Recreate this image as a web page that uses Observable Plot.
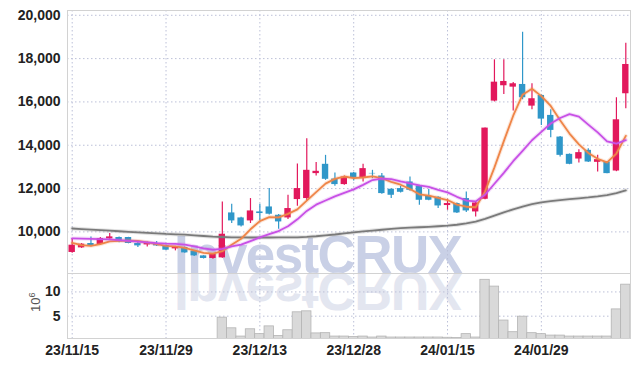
<!DOCTYPE html>
<html>
<head>
<meta charset="utf-8">
<script src="https://cdn.jsdelivr.net/npm/d3@7"></script>
<script src="https://cdn.jsdelivr.net/npm/@observablehq/plot@0.6"></script>
<style>
  html, body { margin: 0; padding: 0; background: #fff; }
  #chart { position: relative; width: 639px; height: 367px; overflow: hidden; }
  #chart svg { position: absolute; left: 0; z-index: 2; background: transparent; }
  .wm { position: absolute; left: 174px; top: 228.1px; font: bold 53px "Liberation Sans", Arial, sans-serif;
        line-height: 53px; white-space: nowrap; z-index: 1; letter-spacing: -1.6px; }
  .wm.top { color: #c9d0e6; }
  .wm.refl { color: #e3e6f0; transform: scaleY(-1); transform-origin: 0 44.9px; }
  #vlabel { position: absolute; left: 22px; top: 292px; width: 20px; height: 20px; z-index: 3;
            font: 13px "Liberation Sans", Arial, sans-serif; color: #555; transform: rotate(-90deg);
            white-space: nowrap; line-height: 20px; }
  #vlabel sup { font-size: 9px; }
</style>
</head>
<body>
<div id="chart">
  <div class="wm top">InvestCRUX</div>
  <div class="wm refl">InvestCRUX</div>
  <div id="vlabel">10<sup>6</sup></div>
</div>
<script>
const dates = ["23/11/15","23/11/16","23/11/17","23/11/20","23/11/21","23/11/22","23/11/23","23/11/24","23/11/27","23/11/28",
  "23/11/29","23/11/30","23/12/01","23/12/04","23/12/05","23/12/06","23/12/07","23/12/08","23/12/11","23/12/12",
  "23/12/13","23/12/14","23/12/15","23/12/18","23/12/19","23/12/20","23/12/21","23/12/22","23/12/26","23/12/27",
  "23/12/28","24/01/02","24/01/03","24/01/04","24/01/05","24/01/08","24/01/09","24/01/10","24/01/11","24/01/12",
  "24/01/15","24/01/16","24/01/17","24/01/18","24/01/19","24/01/22","24/01/23","24/01/24","24/01/25","24/01/26",
  "24/01/29","24/01/30","24/01/31","24/02/01","24/02/02","24/02/05","24/02/06","24/02/07","24/02/08","24/02/13"];
const open  = [9051,9263,9465,9419,9677,9742,9742,9465,9400,9465, 9373,9217,9281,9111,8894,8774,8802,10876,10645,10507,
  10922,11152,10769,10645,11493,11539,12691,13120,12442,12184, 12719,12488,12700,12580,11968,12000,12304,12120,11645,11599,
  11217,11309,11539,10922,11507,16037,16746,16682,16806,15806, 16299,15378,14378,13580,13364,13765,13212,13226,12811,16377];
const high  = [9696,9460,9770,9740,9926,9760,9750,9539,9539,9560, 9390,9330,9300,9120,8900,8980,11382,11276,10680,11539,
  11276,12000,10800,11691,13140,14304,13198,13534,12719,12580, 12740,13120,12843,12691,11990,12106,12534,12150,11954,11620,
  11507,11330,11843,11360,14792,17944,17944,16900,19216,16838, 16320,15640,14400,13600,13797,13843,13534,13240,16193,18709];
const low   = [9020,9240,9320,9400,9660,9500,9450,9281,9300,9330, 9140,9125,9010,8870,8750,8740,8780,10387,10230,10387,
  10507,10780,10124,10571,11184,11400,12580,12380,12106,12150, 12350,12304,12460,11740,11539,11800,11880,11230,11440,11078,
  11000,10850,10900,10691,11480,16000,16345,15576,16100,15640, 14917,14350,13456,13100,13180,13200,12765,12680,12780,15686];
const close = [9387,9433,9341,9696,9770,9539,9465,9355,9465,9355, 9157,9309,9032,8894,8774,8959,9894,10507,10276,10968,
  10848,10816,10461,11078,12000,12843,12797,12428,12184,12534, 12488,12921,12680,11769,11691,11829,11922,11461,11461,11198,
  11309,10876,10968,11336,14792,16912,16944,16838,16193,16147, 15207,14686,13534,13120,13659,13226,13336,12691,15175,17728];
// volume in millions of shares
const volume = [0.2,0.15,0.2,0.15,0.2,0.15,0.1,0.15,0.1,0.1, 0.15,0.1,0.1,0.15,0.1,0.2,4.7,2.5,0.8,2.3,
  1.3,2.9,0.9,2.1,5.8,6.0,1.45,1.5,0.8,0.8, 0.7,0.8,0.6,0.8,0.6,0.6,0.6,0.6,0.6,0.6,
  0.55,0.5,1.3,0.6,12.5,11.1,4.1,1.7,4.9,1.5, 1.3,1.0,1.0,0.8,0.8,0.8,0.8,0.8,6.4,11.5];
const ma5  = [9493,9387,9355,9433,9560,9590,9600,9580,9520,9436, 9359,9328,9264,9149,9033,8994,9111,9406,9682,10121,
  10499,10683,10674,10834,11041,11440,11836,12229,12450,12557, 12486,12511,12561,12478,12310,12178,11978,11734,11673,11574,
  11470,11261,11162,11137,11856,12977,14190,15364,16336,16607, 16266,15814,15153,14539,14041,13645,13375,13206,13617,14431];
const ma10 = [9700,9690,9680,9670,9655,9625,9590,9550,9515,9481, 9458,9445,9414,9334,9235,9177,9219,9335,9416,9577,
  9746,9897,10040,10258,10581,10969,11259,11452,11642,11799, 11963,12173,12395,12464,12434,12332,12245,12148,12076,11942,
  11824,11620,11448,11405,11715,12224,12726,13263,13737,14232, 14621,15002,15259,15437,15324,14955,14595,14180,14078,14236];
const ma60 = [10157,10130,10105,10080,10055,10030,10005,9980,9955,9930, 9905,9890,9870,9840,9810,9780,9765,9752,9745,9742,
  9742,9742,9745,9748,9752,9770,9800,9840,9880,9930, 9980,10020,10060,10100,10140,10170,10195,10215,10235,10260,
  10290,10330,10390,10470,10600,10750,10900,11040,11170,11280, 11360,11420,11470,11510,11550,11590,11640,11700,11790,11920];
const priceTicks = [10000, 12000, 14000, 16000, 18000, 20000];
const volumeTicks = [5, 10];
const dateTicks = ["23/11/15","23/11/29","23/12/13","23/12/28","24/01/15","24/01/29"];

const rows = dates.map((d, i) => ({
  date: d, open: open[i], high: high[i], low: low[i], close: close[i],
  volume: volume[i], ma5: ma5[i], ma10: ma10[i], ma60: ma60[i]
}));

const RED = "#e2185c", BLUE = "#2f97c9";
const colorOf = d => d.close >= d.open ? RED : BLUE;
const GRID = "#bcc0d8";
const FONT = "'Liberation Sans Narrow', 'Liberation Sans', Arial, sans-serif";
const dash = "1.5,2.5";

const price = Plot.plot({
  width: 639, height: 274,
  marginTop: 10, marginBottom: 1, marginLeft: 67, marginRight: 9,
  style: {background: "transparent"},
  x: {type: "band", domain: dates, padding: 0, round: false, axis: null},
  y: {domain: [8080, 20220], axis: null},
  color: {type: "identity"},
  marks: [
    Plot.ruleY(priceTicks, {stroke: GRID, strokeDasharray: dash}),
    Plot.ruleX(dateTicks, {x: d => d, stroke: GRID, strokeDasharray: dash}),
    Plot.frame({stroke: "#d2d2d2"}),
    Plot.axisY(priceTicks, {label: null, tickSize: 0, tickPadding: 7, tickFormat: d3.format(","), fontSize: 14,
      fontWeight: "bold", fontFamily: FONT, fill: "#222", letterSpacing: "0.5px"}),
    Plot.ruleX(rows, {x: "date", y1: "low", y2: "high", stroke: colorOf, strokeWidth: 1.2}),
    Plot.barY(rows, {x: "date", y1: "open", y2: "close", fill: colorOf, insetLeft: 1.5, insetRight: 1.5}),
    Plot.line(rows, {x: "date", y: "ma60", stroke: "#7a7a7a", strokeWidth: 4, strokeOpacity: 0.2}),
    Plot.line(rows, {x: "date", y: "ma60", stroke: "#7a7a7a", strokeWidth: 1.8}),
    Plot.line(rows, {x: "date", y: "ma5", stroke: "#ef8548", strokeWidth: 4, strokeOpacity: 0.2}),
    Plot.line(rows, {x: "date", y: "ma5", stroke: "#ef8548", strokeWidth: 1.8}),
    Plot.line(rows, {x: "date", y: "ma10", stroke: "#c850e6", strokeWidth: 4, strokeOpacity: 0.2}),
    Plot.line(rows, {x: "date", y: "ma10", stroke: "#c850e6", strokeWidth: 1.8})
  ]
});
price.style.top = "0px";

const vol = Plot.plot({
  width: 639, height: 94,
  marginTop: 0, marginBottom: 29, marginLeft: 67, marginRight: 9,
  style: {background: "transparent"},
  x: {type: "band", domain: dates, padding: 0, round: false, axis: null},
  y: {domain: [0.4, 13.8], axis: null},
  marks: [
    Plot.ruleY(volumeTicks, {stroke: GRID, strokeDasharray: dash}),
    Plot.ruleX(dateTicks, {x: d => d, stroke: GRID, strokeDasharray: dash}),
    Plot.barY(rows, {x: "date", y: "volume", fill: "#d9d9d9", stroke: "#b4b4b4", strokeWidth: 0.8, clip: true}),
    Plot.frame({stroke: "#d2d2d2"}),
    Plot.axisY(volumeTicks, {label: null, tickSize: 0, tickPadding: 7, fontSize: 14, fontWeight: "bold",
      fontFamily: FONT, fill: "#222"}),
    Plot.axisX(dateTicks, {label: null, tickSize: 0, tickPadding: 7, fontSize: 14, fontWeight: "bold",
      fontFamily: FONT, fill: "#222"})
  ]
});
vol.style.top = "273px";

const chart = document.getElementById("chart");
chart.appendChild(price);
chart.appendChild(vol);
</script>
</body>
</html>
